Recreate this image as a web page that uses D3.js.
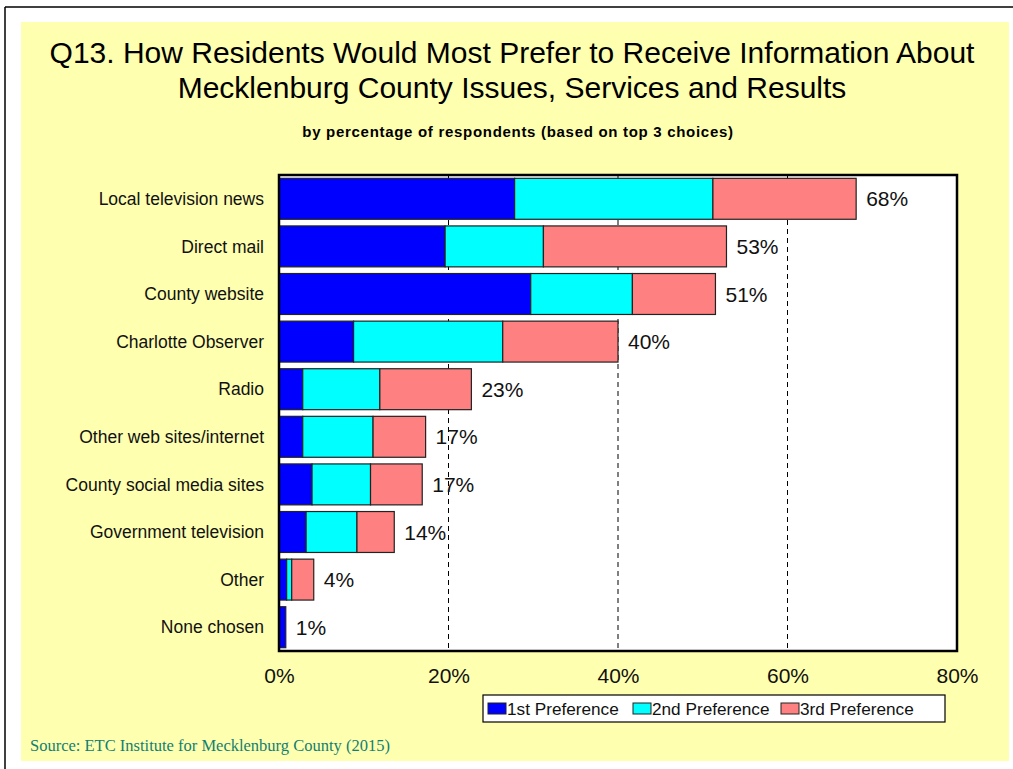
<!DOCTYPE html>
<html>
<head>
<meta charset="utf-8">
<script src="https://cdn.jsdelivr.net/npm/d3@7"></script>
<style>
  html, body { margin: 0; padding: 0; background: #fff; }
  svg { display: block; }
</style>
</head>
<body>
<svg id="chart" width="1013" height="769"></svg>
<script>
// Survey categories, top to bottom
const categories = [
  "Local television news", "Direct mail", "County website", "Charlotte Observer",
  "Radio", "Other web sites/internet", "County social media sites",
  "Government television", "Other", "None chosen"
];
// Percent of respondents choosing each source as 1st / 2nd / 3rd preference
const firstPref  = [27.8, 19.6, 29.7, 8.8, 2.8, 2.8, 3.9, 3.2, 0.9, 0.8];
const secondPref = [23.4, 11.6, 12.0, 17.6, 9.1, 8.3, 6.9, 6.0, 0.6, 0];
const thirdPref  = [16.9, 21.6, 9.8, 13.6, 10.8, 6.2, 6.1, 4.4, 2.6, 0];
// Combined totals shown at the end of each bar
const totals = [68, 53, 51, 40, 23, 17, 17, 14, 4, 1];
const seriesNames = ["1st Preference", "2nd Preference", "3rd Preference"];
const seriesColors = ["#0000FF", "#00FFFF", "#FF8080"];
const xTicks = [0, 20, 40, 60, 80];

(function () {
const svg = d3.select("#chart");
const W = 1013, H = 769;
const SANS = "Liberation Sans, Arial, sans-serif";

// outer frame and yellow panel
svg.append("line").attr("x1", 5).attr("x2", W).attr("y1", 7).attr("y2", 7)
  .attr("stroke", "#000").attr("stroke-width", 1.5);
svg.append("line").attr("x1", 5).attr("x2", 5).attr("y1", 7).attr("y2", H)
  .attr("stroke", "#000").attr("stroke-width", 1.5);
svg.append("rect").attr("x", 21).attr("y", 22).attr("width", 988).attr("height", 739)
  .attr("fill", "#FFFFB0");

// titles
const title = svg.append("text").attr("text-anchor", "middle")
  .attr("font-family", SANS).attr("font-size", 30).attr("fill", "#000");
title.append("tspan").attr("x", 512).attr("y", 63)
  .text("Q13. How Residents Would Most Prefer to Receive Information About");
title.append("tspan").attr("x", 512).attr("y", 98)
  .text("Mecklenburg County Issues, Services and Results");
svg.append("text").attr("x", 518).attr("y", 137).attr("text-anchor", "middle")
  .attr("font-family", SANS).attr("font-size", 15).attr("letter-spacing", 0.7)
  .attr("font-weight", "bold").text("by percentage of respondents (based on top 3 choices)");

// plot geometry
const pLeft = 279, pRight = 957, pTop = 175, pBottom = 651;
const x = d3.scaleLinear().domain([0, 80]).range([pLeft, pRight]);
const y = d3.scaleBand().domain(categories).range([pTop, pBottom]).paddingInner(0.14).paddingOuter(0.07);

svg.append("rect").attr("x", pLeft).attr("y", pTop).attr("width", pRight - pLeft).attr("height", pBottom - pTop)
  .attr("fill", "#fff");

// dashed gridlines
svg.append("g").selectAll("line").data(xTicks.filter(t => t > 0 && t < 80)).join("line")
  .attr("x1", d => x(d)).attr("x2", d => x(d)).attr("y1", pTop).attr("y2", pBottom)
  .attr("stroke", "#000").attr("stroke-width", 1).attr("stroke-dasharray", "5,4");

// stacked bars
const rows = categories.map((c, i) => ({ cat: c, vals: [firstPref[i], secondPref[i], thirdPref[i]] }));
const stack = d3.stack().keys([0, 1, 2]).value((d, k) => d.vals[k]);
const stacked = stack(rows);
svg.append("g").selectAll("g").data(stacked).join("g")
  .attr("fill", (d, i) => seriesColors[i])
  .selectAll("rect").data(d => d.filter(s => s[1] - s[0] > 0)).join("rect")
  .attr("x", d => x(d[0])).attr("width", d => x(d[1]) - x(d[0]))
  .attr("y", d => y(d.data.cat)).attr("height", y.bandwidth())
  .attr("stroke", "#222").attr("stroke-width", 1.2);

// total labels
svg.append("g").selectAll("text").data(rows).join("text")
  .attr("x", d => x(d3.sum(d.vals)) + 10)
  .attr("y", d => y(d.cat) + y.bandwidth() / 2 + 7.5)
  .attr("font-family", SANS).attr("font-size", 21).attr("fill", "#111")
  .text((d, i) => totals[i] + "%");

// plot frame
svg.append("rect").attr("x", pLeft).attr("y", pTop).attr("width", pRight - pLeft).attr("height", pBottom - pTop)
  .attr("fill", "none").attr("stroke", "#000").attr("stroke-width", 2.5);

// category axis
const yAxis = svg.append("g").attr("transform", `translate(${pLeft},0)`)
  .call(d3.axisLeft(y).tickSize(0).tickPadding(15));
yAxis.select(".domain").remove();
yAxis.selectAll("text").attr("font-family", SANS)
  .attr("font-size", 17.5).attr("fill", "#111").attr("dy", "0.35em");

// value axis
const xAxis = svg.append("g").attr("transform", `translate(0,${pBottom})`)
  .call(d3.axisBottom(x).tickValues(xTicks).tickFormat(d => d + "%").tickSize(0).tickPadding(17));
xAxis.select(".domain").remove();
xAxis.selectAll("text").attr("font-family", SANS)
  .attr("font-size", 21).attr("fill", "#111");

// legend
const lg = svg.append("g");
lg.append("rect").attr("x", 483).attr("y", 695).attr("width", 462).attr("height", 27)
  .attr("fill", "#fff").attr("stroke", "#000").attr("stroke-width", 1.2);
const legendX = [488, 633, 781];
seriesNames.forEach((name, i) => {
  lg.append("rect").attr("x", legendX[i]).attr("y", 703).attr("width", 18).attr("height", 11)
    .attr("fill", seriesColors[i]).attr("stroke", "#222").attr("stroke-width", 1);
  lg.append("text").attr("x", legendX[i] + 19).attr("y", 715)
    .attr("font-family", SANS).attr("font-size", 17.2).attr("fill", "#111")
    .text(name);
});

// source note
svg.append("text").attr("x", 30).attr("y", 751)
  .attr("font-family", "Liberation Serif, Times New Roman, serif").attr("font-size", 16.5)
  .attr("fill", "#108070").text("Source:  ETC Institute for Mecklenburg County (2015)");
})();
</script>
</body>
</html>
